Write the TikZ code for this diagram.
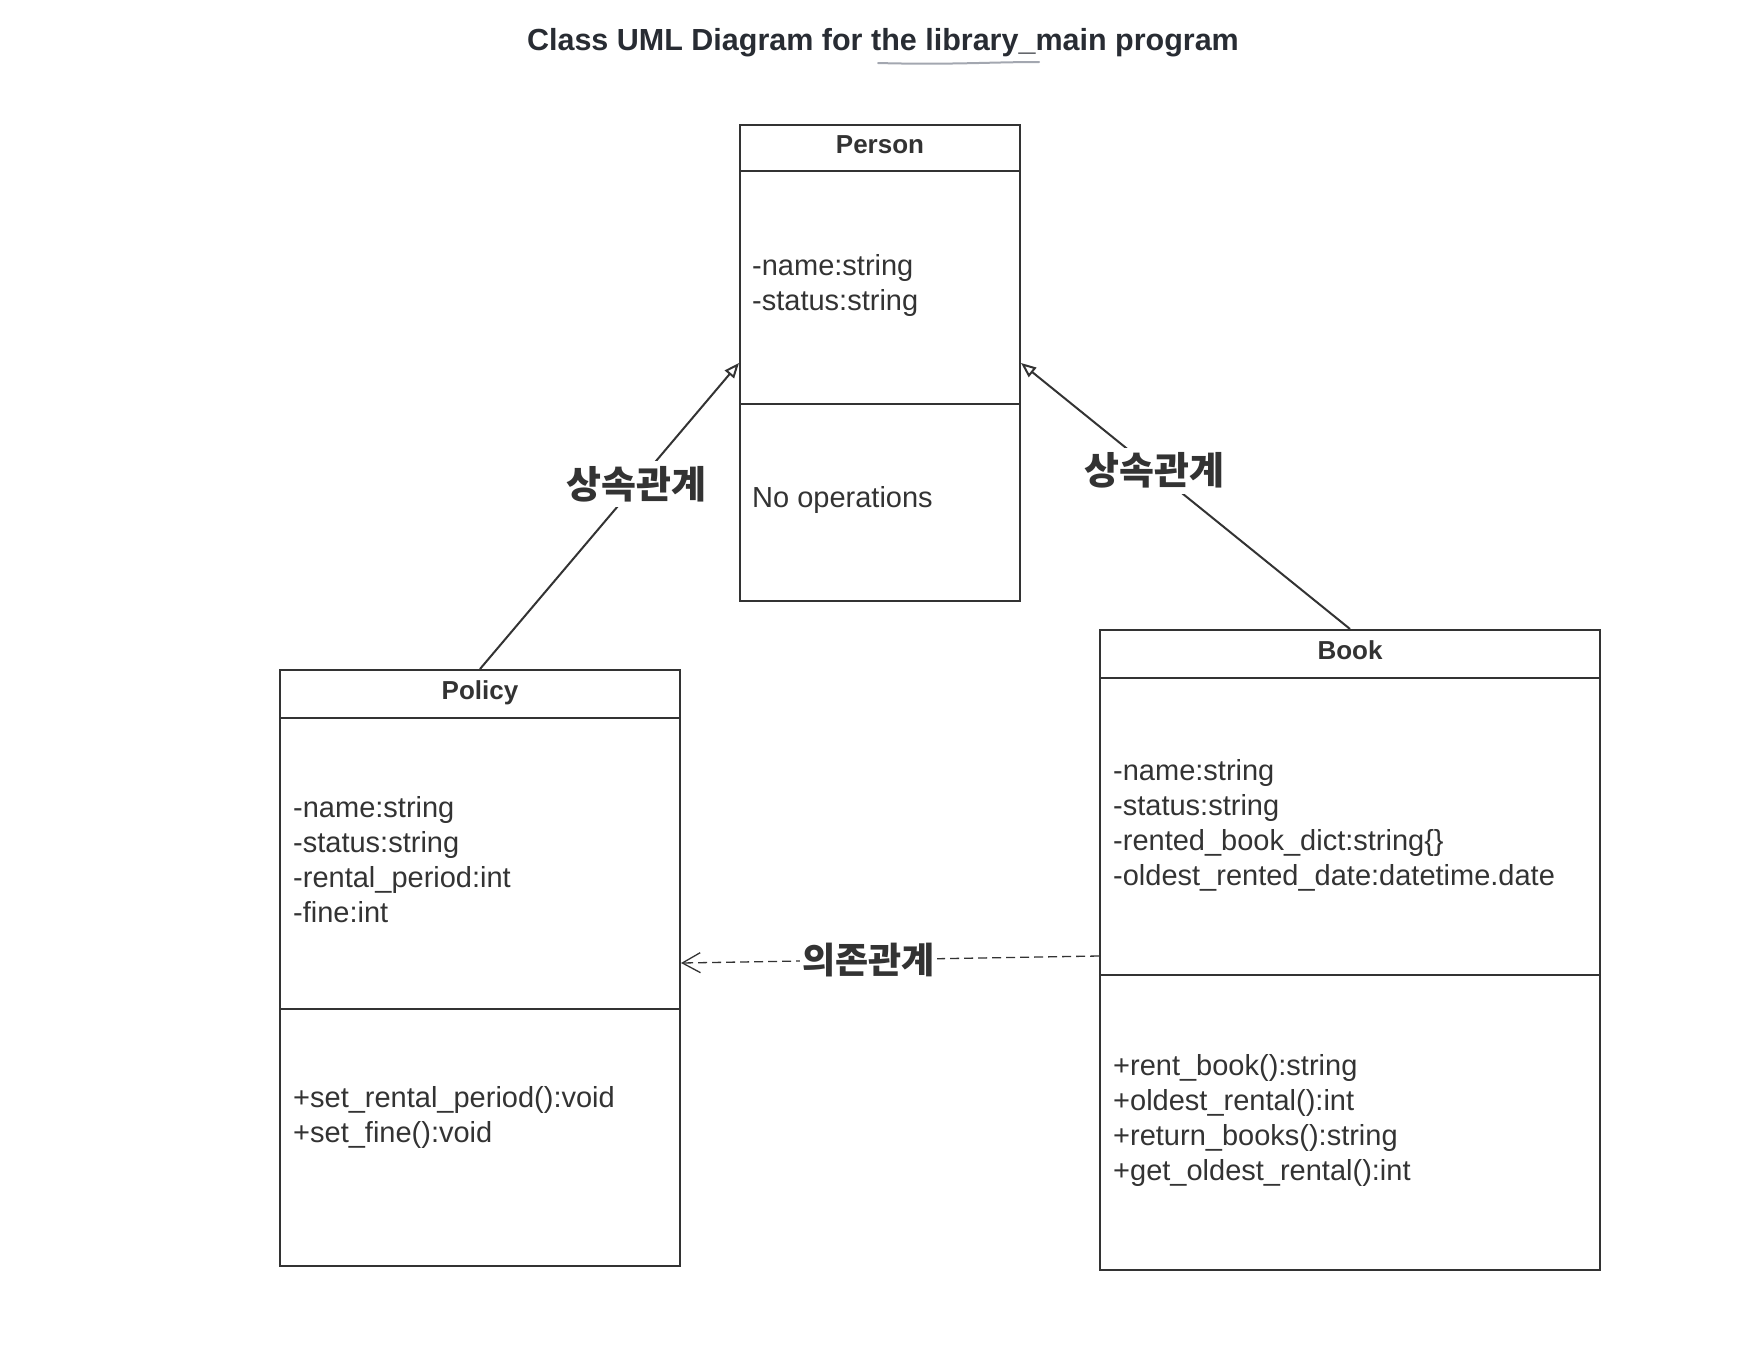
\documentclass[tikz,border=0pt]{standalone}
\usepackage{fontspec}
\setmainfont{Liberation Sans}
\newfontfamily\kr{Noto Sans CJK KR}
\usetikzlibrary{arrows.meta}
\definecolor{ink}{HTML}{333333}
\definecolor{titleink}{HTML}{282C33}
\definecolor{uline}{HTML}{A3A7B0}
\tikzset{
  classbox/.style={draw=ink, line width=2pt, fill=none, inner sep=0pt},
  divider/.style={draw=ink, line width=2pt},
  hdr/.style={anchor=base, text=ink, font=\fontsize{26}{31}\selectfont\bfseries, inner sep=0pt},
  body/.style={anchor=base west, text=ink, font=\fontsize{29}{35}\selectfont, inner sep=0pt, align=left},
  rel/.style={text=ink, font=\kr\fontsize{38}{44}\selectfont\bfseries, fill=white, inner sep=5pt},
  inherit/.style={draw=ink, line width=2pt, -{Triangle[open, length=15pt, width=12pt, line width=2pt]}},
  depend/.style={draw=ink, line width=1.3pt, dash pattern=on 9pt off 5pt, -{Straight Barb[length=18pt, width=20pt, line width=1.3pt]}}
}
\begin{document}
\begin{tikzpicture}[x=1pt, y=-1pt]
\useasboundingbox (0,0) rectangle (1760,1360);
% title
\node[anchor=base, text=titleink, font=\fontsize{30.5}{36}\selectfont\bfseries, inner sep=0pt] (title) at (883,50) {Class UML Diagram for the library\_main program};
\draw[uline, line width=2pt, line cap=round] (878,63) .. controls (950,65) and (990,62) .. (1039,62);

% Person
\node[classbox, minimum width=280pt, minimum height=476pt] (person) at (880,363) {};
\draw[divider] (740,171) -- (1020,171);
\draw[divider] (740,404) -- (1020,404);
\node[hdr] (personh) at (880,153) {Person};
\node[body] (persona) at (752,275) {-name:string};
\node[body] (personb) at (752,310) {-status:string};
\node[body] (personop) at (752,507) {No operations};

% Policy
\node[classbox, minimum width=400pt, minimum height=596pt] (policy) at (480,968) {};
\draw[divider] (280,718) -- (680,718);
\draw[divider] (280,1009) -- (680,1009);
\node[hdr] (policyh) at (480,699) {Policy};
\node[body] (policya1) at (293,817) {-name:string};
\node[body] (policya2) at (293,852) {-status:string};
\node[body] (policya3) at (293,887) {-rental\_period:int};
\node[body] (policya4) at (293,922) {-fine:int};
\node[body] (policyo1) at (293,1107) {+set\_rental\_period():void};
\node[body] (policyo2) at (293,1142) {+set\_fine():void};

% Book
\node[classbox, minimum width=500pt, minimum height=640pt] (book) at (1350,950) {};
\draw[divider] (1100,678) -- (1600,678);
\draw[divider] (1100,975) -- (1600,975);
\node[hdr] (bookh) at (1350,659) {Book};
\node[body] (booka1) at (1113,780) {-name:string};
\node[body] (booka2) at (1113,815) {-status:string};
\node[body] (booka3) at (1113,850) {-rented\_book\_dict:string\{\}};
\node[body] (booka4) at (1113,885) {-oldest\_rented\_date:datetime.date};
\node[body] (booko1) at (1113,1075) {+rent\_book():string};
\node[body] (booko2) at (1113,1110) {+oldest\_rental():int};
\node[body] (booko3) at (1113,1145) {+return\_books():string};
\node[body] (booko4) at (1113,1180) {+get\_oldest\_rental():int};

% connectors
\draw[inherit] (policy.north) -- node[rel, pos=0.605] (lbl1) {상속관계} (person.west);
\draw[inherit] (book.north) -- node[rel, pos=0.595] (lbl2) {상속관계} (person.east);
\draw[depend] ([yshift=-6pt]book.west) -- node[rel, font=\kr\fontsize{36}{42}\selectfont\bfseries, inner sep=2pt, pos=0.552] (lbl3) {의존관계} ([yshift=5pt]policy.east);
\end{tikzpicture}
\end{document}
